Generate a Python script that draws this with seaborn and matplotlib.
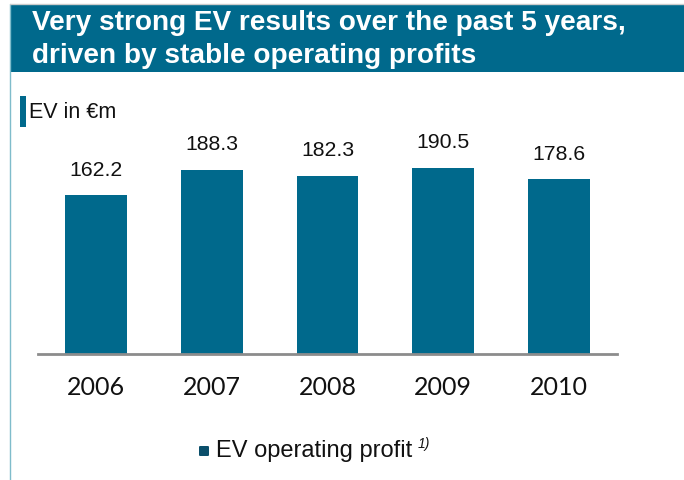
import matplotlib
matplotlib.use("Agg")
import matplotlib.pyplot as plt
from matplotlib.patches import Rectangle, FancyBboxPatch
from matplotlib.lines import Line2D
import seaborn as sns
import pandas as pd

years = ["2006", "2007", "2008", "2009", "2010"]
values = [162.2, 188.3, 182.3, 190.5, 178.6]
title_lines = ["Very strong EV results over the past 5 years,", "driven by stable operating profits"]
unit_label = "EV in €m"
legend_label = "EV operating profit"

TEAL = "#00698C"
W, H = 684, 480

sns.set_theme(style="white")
plt.rcParams['font.family'] = ['Liberation Sans', 'DejaVu Sans']

fig = plt.figure(figsize=(W / 100, H / 100), dpi=100)

def fx(px):
    return px / W

def fy(py):
    return 1 - py / H

# frame decorations
fig.add_artist(Line2D([fx(10), fx(10)], [fy(4), fy(480)], color="#7fbccb", lw=1.0))
fig.add_artist(Line2D([fx(10), fx(684)], [fy(3.5), fy(3.5)], color="#cccccc", lw=1.0))
fig.add_artist(Rectangle((fx(10.5), fy(72)), fx(684) - fx(10.5), fy(4) - fy(72),
                         transform=fig.transFigure, color=TEAL, lw=0))
for i, line in enumerate(title_lines):
    fig.text(fx(32), fy(23 + 33 * i), line, color="white", fontsize=20.2,
             fontweight="bold", va="center", ha="left")

# unit label
fig.add_artist(Rectangle((fx(20), fy(127)), fx(6), fy(96) - fy(127),
                         transform=fig.transFigure, color=TEAL, lw=0))
fig.text(fx(29), fy(112), unit_label, fontsize=15.5, va="center", ha="left", color="#111111")

# bars
ax = fig.add_axes([fx(38), fy(354), fx(617) - fx(38), 195.6 / H])
df = pd.DataFrame({"year": years, "value": values})
sns.barplot(data=df, x="year", y="value", color=TEAL, width=0.535, ax=ax,
            saturation=1, edgecolor="none")
ax.set_xlim(-0.5, 4.5)
ax.set_ylim(0, 200)
ax.set_xlabel("")
ax.set_ylabel("")
ax.set_yticks([])
for s in ["top", "left", "right"]:
    ax.spines[s].set_visible(False)
ax.spines["bottom"].set_color("#8c8c8c")
ax.spines["bottom"].set_linewidth(2.0)
ax.patch.set_alpha(0)
ax.tick_params(axis="x", length=0, pad=16)
for lbl in ax.get_xticklabels():
    lbl.set_fontfamily(["Lato", "DejaVu Sans"])
    lbl.set_fontsize(18)
    lbl.set_color("#111111")

for i, v in enumerate(values):
    ax.annotate(f"{v:.1f}", xy=(i, v), xytext=(0, 18), textcoords="offset points",
                ha="center", va="center", fontsize=15.3, color="#111111")

# legend
fig.add_artist(FancyBboxPatch((fx(199), fy(456)), fx(10), fy(446) - fy(456),
                              boxstyle="round,pad=0,rounding_size=0.002",
                              transform=fig.transFigure, color="#0b4f6b", lw=0))
fig.text(fx(216), fy(451), legend_label, fontsize=17, va="center", ha="left", color="#111111")
fig.text(fx(418), fy(444), "1)", fontsize=10, style="italic", va="center", ha="left", color="#111111")

fig.savefig("out.png", dpi=100)
